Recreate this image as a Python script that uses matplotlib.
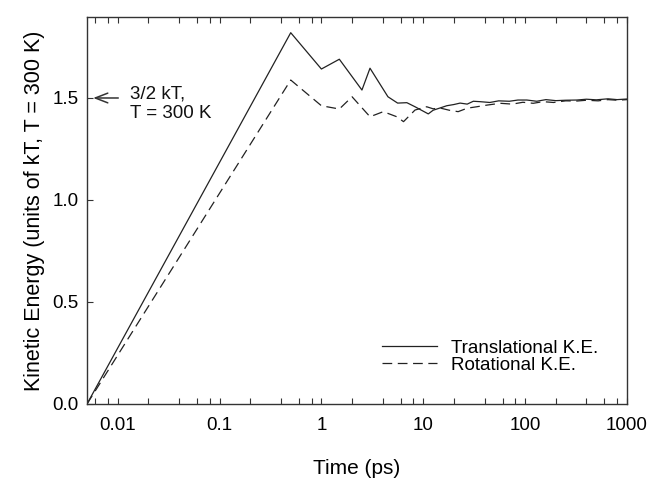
import numpy as np
import matplotlib
matplotlib.use("Agg")
import matplotlib.pyplot as plt
from matplotlib.ticker import LogLocator, FixedLocator, NullFormatter

plt.rcParams['font.family'] = ['Liberation Sans', 'DejaVu Sans']
plt.rcParams['lines.scale_dashes'] = False

# Translational kinetic energy (units of kT)
t_trans = [0.005, 0.5, 1.0, 1.5, 2.5, 3.0, 4.5, 5.6, 6.9, 8.3, 11.2, 12.5, 14.6, 17, 20, 23,
           27, 31, 36, 45, 55, 70, 85, 104, 130, 160, 200, 250, 321, 400, 500, 650, 800, 1000]
ke_trans = [0.0, 1.82, 1.642, 1.69, 1.539, 1.646, 1.506, 1.475, 1.477, 1.457, 1.422, 1.44, 1.451, 1.462,
            1.468, 1.475, 1.47, 1.484, 1.482, 1.478, 1.486, 1.484, 1.49, 1.49, 1.484, 1.492, 1.487,
            1.489, 1.49, 1.494, 1.491, 1.496, 1.492, 1.495]

# Rotational kinetic energy (units of kT)
t_rot = [0.005, 0.5, 1.0, 1.5, 2.0, 3.0, 4.05, 5.5, 6.4, 8.3, 10.8, 12.5, 14.6, 18, 22, 27, 33.5,
         42, 57, 75, 95, 120, 150, 190, 250, 321, 400, 520, 650, 800, 1000]
ke_rot = [0.0, 1.588, 1.462, 1.446, 1.506, 1.408, 1.433, 1.408, 1.384, 1.441, 1.457, 1.447, 1.451,
          1.44, 1.433, 1.45, 1.457, 1.465, 1.474, 1.47, 1.479, 1.474, 1.482, 1.478, 1.486, 1.485,
          1.489, 1.486, 1.492, 1.489, 1.492]

fig = plt.figure(figsize=(6.48, 4.83), dpi=100)
ax = fig.add_axes([87 / 648, 1 - 404 / 483, 540 / 648, 387 / 483])

ax.plot(t_trans, ke_trans, color='#222222', lw=0.9, label='Translational K.E.')
ax.plot(t_rot, ke_rot, color='#222222', lw=0.9, linestyle=(0, (7, 4)), label='Rotational K.E.')

ax.set_xscale('log')
ax.set_xlim(0.005, 1000)
ax.set_ylim(0, 1.897)

ax.xaxis.set_major_locator(FixedLocator([0.01, 0.1, 1, 10, 100, 1000]))
ax.set_xticklabels(['0.01', '0.1', '1', '10', '100', '1000'])
ax.xaxis.set_minor_locator(LogLocator(base=10, subs=[2, 4, 6, 8]))
ax.xaxis.set_minor_formatter(NullFormatter())
ax.set_yticks([0.0, 0.5, 1.0, 1.5])
ax.set_yticklabels(['0.0', '0.5', '1.0', '1.5'])

ax.tick_params(axis='x', which='both', direction='in', top=True, length=4.5, width=0.8,
               labelsize=13.5, pad=9, color='#333333')
ax.tick_params(axis='y', which='both', direction='in', right=False, length=4.5, width=0.8,
               labelsize=13.5, pad=6, color='#333333')
for sp in ax.spines.values():
    sp.set_linewidth(1.0)
    sp.set_color('#333333')

ax.set_xlabel('Time (ps)', fontsize=15, labelpad=18)
ax.set_ylabel('Kinetic Energy (units of kT, T = 300 K)', fontsize=15.5, labelpad=5)

ax.annotate('', xy=(0.0054, 1.5), xytext=(0.0108, 1.5),
            arrowprops=dict(arrowstyle='->,head_length=0.9,head_width=0.35', color='#333333', lw=1.1))
ax.text(0.0133, 1.47, '3/2 kT,\nT = 300 K', fontsize=13.5, va='center', ha='left',
        linespacing=1.2, color='#111111')

ax.legend(loc='lower right', bbox_to_anchor=(0.96, 0.058), frameon=False, fontsize=13.5,
          handlelength=2.9, handletextpad=0.75, labelspacing=0.0, borderaxespad=0)

fig.savefig('out.png', dpi=100)
